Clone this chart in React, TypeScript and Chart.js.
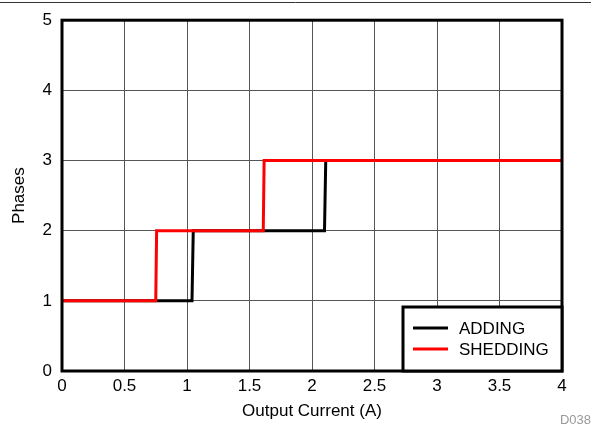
import React, { useEffect, useRef } from "react";
import { Chart, registerables } from "chart.js";

Chart.register(...registerables);

const addingX = [0, 1.04, 1.05, 2.1, 2.11, 4];
const addingY = [1, 1, 2, 2, 3, 3];
const sheddingX = [0, 0.75, 0.757, 1.61, 1.617, 4];
const sheddingY = [1, 1, 2, 2, 3, 3];
const seriesNames = ["ADDING", "SHEDDING"];
const xTitle = "Output Current (A)";
const yTitle = "Phases";
const footNote = "D038";

const FONT = "'Liberation Sans', Arial, sans-serif";

const overlay = {
  id: "overlay",
  afterDraw(chart: any) {
    const { ctx, chartArea: a } = chart;
    ctx.save();
    // plot border
    ctx.strokeStyle = "#000";
    ctx.lineWidth = 3;
    ctx.strokeRect(a.left, a.top, a.right - a.left, a.bottom - a.top);
    // top rule
    ctx.lineWidth = 1;
    ctx.strokeStyle = "#333";
    ctx.beginPath();
    ctx.moveTo(0, 2.5);
    ctx.lineTo(chart.width, 2.5);
    ctx.stroke();
    // legend box
    const lx = 403, ly = 307, lw = a.right - 403, lh = a.bottom - 307;
    ctx.fillStyle = "#fff";
    ctx.fillRect(lx, ly, lw, lh);
    ctx.lineWidth = 3;
    ctx.strokeStyle = "#000";
    ctx.strokeRect(lx, ly, lw, lh);
    const colors = ["#000", "#ff0000"];
    ctx.font = `17px ${FONT}`;
    ctx.textBaseline = "middle";
    ctx.textAlign = "left";
    seriesNames.forEach((n, i) => {
      const y = 328 + i * 21;
      ctx.strokeStyle = colors[i];
      ctx.lineWidth = 3;
      ctx.beginPath();
      ctx.moveTo(413, y);
      ctx.lineTo(448, y);
      ctx.stroke();
      ctx.fillStyle = "#000";
      ctx.fillText(n, 459, y + 1);
    });
    // titles
    ctx.fillStyle = "#000";
    ctx.textAlign = "center";
    ctx.font = `17px ${FONT}`;
    ctx.fillText(xTitle, (a.left + a.right) / 2, 411);
    ctx.save();
    ctx.translate(19, (a.top + a.bottom) / 2);
    ctx.rotate(-Math.PI / 2);
    ctx.fillText(yTitle, 0, 0);
    ctx.restore();
    ctx.fillStyle = "#999";
    ctx.font = `13px ${FONT}`;
    ctx.textAlign = "right";
    ctx.fillText(footNote, 591, 420);
    ctx.restore();
  },
};

export default function App() {
  const ref = useRef<HTMLCanvasElement>(null);
  useEffect(() => {
    const chart = new Chart(ref.current!, {
      type: "scatter",
      data: {
        datasets: [
          {
            label: seriesNames[1],
            data: sheddingX.map((x, i) => ({ x, y: sheddingY[i] })),
            showLine: true,
            borderColor: "#ff0000",
            borderWidth: 3,
            pointRadius: 0,
            order: 0,
          },
          {
            label: seriesNames[0],
            data: addingX.map((x, i) => ({ x, y: addingY[i] })),
            showLine: true,
            borderColor: "#000",
            borderWidth: 3,
            pointRadius: 0,
            order: 1,
          },
        ],
      },
      options: {
        responsive: false,
        animation: false,
        layout: { padding: { left: 0, right: 29, top: 16, bottom: 0 } },
        plugins: { legend: { display: false }, tooltip: { enabled: false } },
        scales: {
          x: {
            type: "linear",
            min: 0,
            max: 4,
            ticks: {
              stepSize: 0.5,
              color: "#000",
              font: { family: FONT, size: 17 },
              padding: 5,
              maxRotation: 0,
              callback: (v: any) => String(Number(v)),
            },
            grid: { color: "#555", lineWidth: 1, drawTicks: false },
            border: { display: false },
            afterFit: (s: any) => { s.height = 55; },
          },
          y: {
            type: "linear",
            min: 0,
            max: 5,
            ticks: {
              stepSize: 1,
              color: "#000",
              font: { family: FONT, size: 17 },
              padding: 10,
              callback: (v: any) => String(Number(v)),
            },
            grid: { color: "#555", lineWidth: 1, drawTicks: false },
            border: { display: false },
            afterFit: (s: any) => { s.width = 62; },
          },
        },
      },
      plugins: [overlay],
    });
    return () => chart.destroy();
  }, []);
  return (
    <div style={{ position: "fixed", left: 0, top: 0, width: 591, height: 426, background: "#fff" }}>
      <canvas ref={ref} width={591} height={426} />
    </div>
  );
}
